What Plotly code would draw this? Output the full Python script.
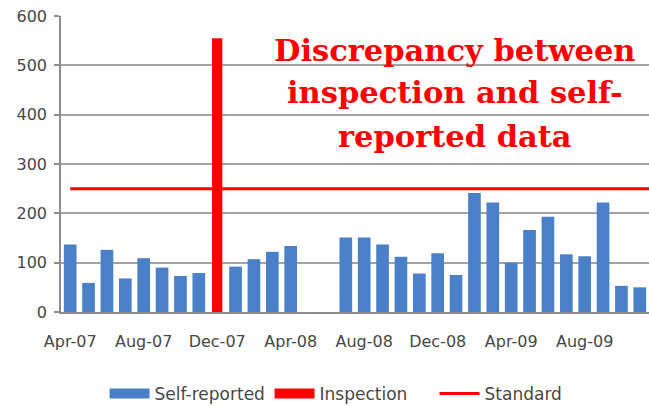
import plotly.graph_objects as go

months = ["Apr-07", "May-07", "Jun-07", "Jul-07", "Aug-07", "Sep-07", "Oct-07", "Nov-07",
          "Dec-07", "Jan-08", "Feb-08", "Mar-08", "Apr-08", "May-08", "Jun-08", "Jul-08",
          "Aug-08", "Sep-08", "Oct-08", "Nov-08", "Dec-08", "Jan-09", "Feb-09", "Mar-09",
          "Apr-09", "May-09", "Jun-09", "Jul-09", "Aug-09", "Sep-09", "Oct-09", "Nov-09",
          "Dec-09"]
self_reported = [137, 59, 126, 68, 109, 90, 73, 79,
                 None, 92, 107, 122, 134, None, None, 151,
                 151, 137, 112, 78, 119, 75, 241, 222,
                 100, 166, 193, 117, 113, 222, 53, 50,
                 None]
inspection_month = ["Dec-07"]
inspection = [555]
standard_value = 250
standard = [standard_value for _ in months]
tick_labels = ["Apr-07", "Aug-07", "Dec-07", "Apr-08", "Aug-08", "Dec-08", "Apr-09", "Aug-09"]
annotation_lines = ["Discrepancy between", "inspection and self-", "reported data"]

BLUE = "#4a80c8"
RED = "#ff0000"
TXT = "#474747"
GRID = "#a3a3a3"
AXIS = "#8c8c8c"

fig = go.Figure()
fig.add_trace(go.Bar(x=months, y=self_reported, name="Self-reported", showlegend=False,
                     marker=dict(color=BLUE, line=dict(width=0)), width=0.69))
fig.add_trace(go.Bar(x=inspection_month, y=inspection, name="Inspection", showlegend=False,
                     marker=dict(color=RED, line=dict(width=0)), width=0.56))
fig.add_trace(go.Scatter(x=months, y=standard, name="Standard", mode="lines", showlegend=False,
                         line=dict(color=RED, width=3)))
# legend keys (Excel-style wide rectangles)
fig.add_trace(go.Scatter(x=[None], y=[None], name="Self-reported", mode="lines",
                         line=dict(color=BLUE, width=10)))
fig.add_trace(go.Scatter(x=[None], y=[None], name="Inspection", mode="lines",
                         line=dict(color=RED, width=10)))
fig.add_trace(go.Scatter(x=[None], y=[None], name="Standard", mode="lines",
                         line=dict(color=RED, width=3)))

ann_y = [532, 445, 356]
for txt, yy in zip(annotation_lines, ann_y):
    fig.add_annotation(text="<b>%s</b>" % txt, xref="paper", yref="y", x=0.670, y=yy,
                       xanchor="center", yanchor="middle", showarrow=False,
                       font=dict(family="DejaVu Serif", size=30.5, color=RED))

fig.update_layout(
    width=649, height=406,
    margin=dict(l=60.7, r=0, t=16, b=94, autoexpand=False),
    paper_bgcolor="white", plot_bgcolor="white",
    barmode="overlay",
    font=dict(family="DejaVu Sans", size=16, color=TXT),
    showlegend=True,
    legend=dict(orientation="h", x=0.495, xanchor="center", y=-0.277, yanchor="middle",
                font=dict(family="DejaVu Sans", size=17, color=TXT),
                traceorder="normal", itemwidth=40, entrywidth=110, entrywidthmode="pixels"),
    xaxis=dict(type="category", categoryorder="array", categoryarray=months,
               range=[-0.5, 31.5], tickmode="array", tickvals=tick_labels, ticktext=tick_labels,
               ticks="", showgrid=False, showline=True, linecolor=AXIS, linewidth=1.5,
               automargin=False, ticklabelstandoff=14, tickfont=dict(size=16, color=TXT)),
    xaxis2=dict(overlaying="x", anchor="y", side="bottom", range=[-0.5, 31.5],
                tickmode="array", tickvals=[i - 0.5 for i in range(0, 33, 2)],
                ticks="outside", ticklen=4, tickcolor=AXIS, tickwidth=1.5, automargin=False,
                showticklabels=False, showgrid=False, showline=False, zeroline=False),
    yaxis=dict(range=[0, 600], dtick=100, tick0=0, showgrid=True, gridcolor=GRID, gridwidth=1.5,
               showline=True, linecolor=AXIS, linewidth=1.5, ticks="outside", ticklen=5,
               tickcolor=AXIS, tickwidth=1.5, zeroline=False, ticklabelstandoff=4,
               automargin=False, tickfont=dict(size=16, color=TXT)),
)

fig.write_html("out.html", config={"displayModeBar": False},
               post_script="document.body.style.margin='0';document.body.style.overflow='hidden';")
